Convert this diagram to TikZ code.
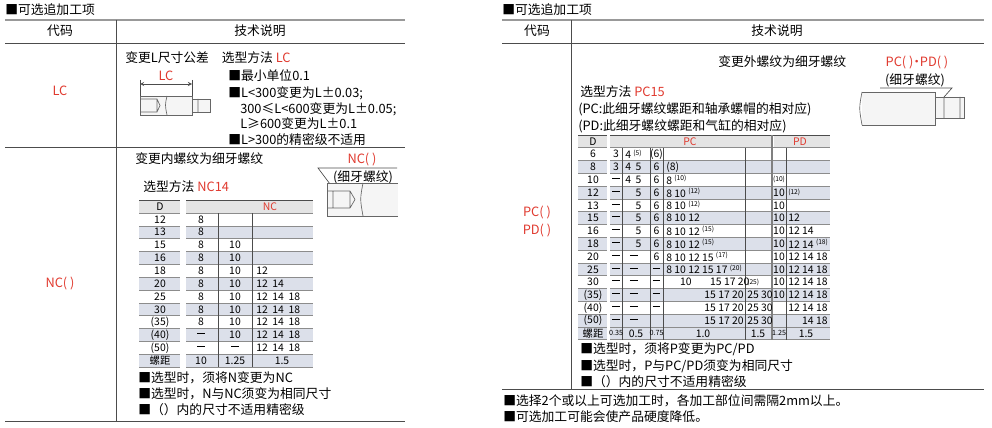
\documentclass[tikz,border=0pt]{standalone}
\usepackage{fontspec}
\setmainfont{Noto Sans CJK SC}
\newcommand{\dsh}{\rule[0.28em]{0.75em}{0.45pt}}
\begin{document}
\begin{tikzpicture}[x=0.75pt,y=-0.75pt,
  txt/.style={anchor=west,inner sep=0pt,font=\fontsize{9.6}{11}\selectfont},
  cell/.style={inner sep=0pt,font=\fontsize{7.8}{9}\selectfont},
  sm/.style={inner sep=0pt,font=\fontsize{5.4}{6}\selectfont},
  redt/.style={text=myred},
  grid/.style={draw=black!70,line width=0.5pt},
  sep/.style={draw=black!45,line width=0.5pt}]
\definecolor{myred}{HTML}{E03A2F}
\definecolor{rowshade}{HTML}{DCE0EA}
\definecolor{hdr}{HTML}{E4E4E4}
\useasboundingbox (0,0) rectangle (992,428);
% ===== LEFT TABLE =====
\node[txt] (t1) at (5,10) {■可选追加工项};
\draw[draw=black!40,line width=1.5pt] (5,20) -- (405,20);
\draw[grid] (5,43) -- (405,43);
\draw[grid] (5,147) -- (405,147);
\draw[grid] (5,421) -- (405,421);
\draw[grid] (116,20) -- (116,421);
\node[txt,anchor=center] (h1) at (60,31) {代码};
\node[txt,anchor=center] (h2) at (260,31) {技术说明};
\node[txt,anchor=center,redt] (lc) at (60,91) {LC};
\node[txt,anchor=center,redt] (nc) at (60,284) {NC( )};
% LC row
\node[txt] (lct) at (125,58) {变更L尺寸公差\quad 选型方法 \textcolor{myred}{LC}};
\node[txt,anchor=center,redt] (lcd) at (166,76) {LC};
\draw[black!70,line width=0.4pt] (140,80)--(140,96) (192,80)--(192,96);
\draw[black!70,line width=0.4pt,<->,>=stealth] (140,84)--(192,84);
\draw[black!60,line width=0.7pt,fill=black!4] (140,96) rectangle (192,115);
\draw[black!60,line width=0.7pt,fill=black!4] (192,99) rectangle (210,112);
\draw[black!60,line width=0.5pt] (140,99)--(157,99)--(160,105.5)--(157,112)--(140,112) (157,99)--(157,112) (198,99)--(198,112) (167,96) .. controls (165,105) .. (167,115);
\node[txt] (l1) at (228,76) {■最小单位0.1};
\node[txt] (l2) at (228,93) {■L<300变更为L±0.03;};
\node[txt] (l3) at (240,109) {300≤L<600变更为L±0.05;};
\node[txt] (l4) at (240,124) {L≥600变更为L±0.1};
\node[txt] (l5) at (228,140) {■L>300的精密级不适用};
% NC row
\node[txt] (nct) at (135,159) {变更内螺纹为细牙螺纹};
\node[txt] (ncs) at (143,187) {选型方法 \textcolor{myred}{NC14}};
\node[txt,anchor=center,redt] (ncl) at (362,160) {NC( )};
\node[txt,anchor=center] (ncl2) at (363,177) {(细牙螺纹)};
\draw[black!70,line width=0.5pt] (397,168)--(318,168)--(336,192);
\draw[black!60,line width=0.7pt,fill=black!4] (398,183)--(327,183)--(327,216)--(398,216);
\draw[black!60,line width=0.5pt] (327,191)--(350,191)--(355,199.5)--(350,208)--(327,208) (333,191)--(333,208) (350,191)--(350,208) (363,183) .. controls (360,199) .. (363,216);
% NC table
\fill[hdr] (139,200) rectangle (180,213);
\fill[hdr] (186,200) rectangle (313,213);
\foreach \k in {2,4,6,8,10,12}{
  \fill[rowshade] (139,{213+12.85*(\k-1)}) rectangle (180,{213+12.85*\k});
  \fill[rowshade] (186,{213+12.85*(\k-1)}) rectangle (313,{213+12.85*\k});}
\foreach \k in {0,...,12}{
  \draw[sep] (139,{213+12.85*\k}) -- (180,{213+12.85*\k});
  \draw[sep] (186,{213+12.85*\k}) -- (313,{213+12.85*\k});}
\draw[grid] (139,200)--(180,200) (186,200)--(313,200);
\draw[grid] (218,213)--(218,367) (252,213)--(252,367);
\node[cell] (ncd) at (160,206.5) {D};
\node[cell,redt] (nch) at (270,206.5) {NC};
\foreach \d/\a/\b/\c [count=\k] in {12/8/{}/{},13/8/{}/{},15/8/10/{},16/8/10/{},18/8/10/12,20/8/10/{12\ \ 14},25/8/10/{12\ \ 14\ \ 18},30/8/10/{12\ \ 14\ \ 18},(35)/8/10/{12\ \ 14\ \ 18},(40)/\dsh/10/{12\ \ 14\ \ 18},(50)/\dsh/\dsh/{12\ \ 14\ \ 18}}{
  \node[cell] at (160,{206.5+12.85*\k}) {\d};
  \node[cell] at (201,{206.5+12.85*\k}) {\a};
  \node[cell] at (235,{206.5+12.85*\k}) {\b};
  \node[cell,anchor=west] at (256,{206.5+12.85*\k}) {\c};}
\node[cell] (ncp) at (160,360.5) {螺距};
\node[cell] at (201,360.5) {10};
\node[cell] at (235,360.5) {1.25};
\node[cell] at (282,360.5) {1.5};
\node[txt] (n1) at (138,378) {■选型时，须将N变更为NC};
\node[txt] (n2) at (138,394) {■选型时，N与NC须变为相同尺寸};
\node[txt] (n3) at (138,410) {■（）内的尺寸不适用精密级};
% ===== RIGHT TABLE =====
\node[txt] (t2) at (502,10) {■可选追加工项};
\draw[draw=black!40,line width=1.5pt] (502,20) -- (984,20);
\draw[grid] (502,43) -- (984,43);
\draw[grid] (502,389) -- (984,389);
\draw[grid] (571,20) -- (571,389);
\node[txt,anchor=center] (h3) at (537,31) {代码};
\node[txt,anchor=center] (h4) at (777,31) {技术说明};
\node[txt,anchor=center,redt] (pc) at (537,213) {PC( )};
\node[txt,anchor=center,redt] (pd) at (537,231) {PD( )};
\node[txt] (pct) at (718,62) {变更外螺纹为细牙螺纹};
\node[txt,anchor=center,redt] (pcl) at (917,63) {PC( )\kern-0.25em·\kern-0.25em PD( )};
\node[txt,anchor=center] (pcl2) at (915,80) {(细牙螺纹)};
\draw[black!70,line width=0.5pt] (880,88)--(952,88)--(936,106);
\draw[black!60,line width=0.7pt,fill=black!4] (862,92)--(935,92)--(935,125)--(862,125);
\draw[black!60,line width=0.7pt,fill=black!4] (935,97) rectangle (964,118);
\draw[black!60,line width=0.5pt] (862,92) .. controls (859,108) .. (862,125) (944,97)--(944,118) (960,97)--(960,118);
\node[txt] (ps) at (580,92) {选型方法 \textcolor{myred}{PC15}};
\node[txt] (p1) at (578,109) {(PC:此细牙螺纹螺距和轴承螺帽的相对应)};
\node[txt] (p2) at (578,126) {(PD:此细牙螺纹螺距和气缸的相对应)};
% PC table
\fill[hdr] (578,135) rectangle (607,147.8);
\fill[hdr] (610,135) rectangle (771,147.8);
\fill[hdr] (774,135) rectangle (830,147.8);
\foreach \k in {2,4,6,8,10,12,14,15}{
  \fill[rowshade] (578,{147.8+12.8*(\k-1)}) rectangle (607,{147.8+12.8*\k});
  \fill[rowshade] (610,{147.8+12.8*(\k-1)}) rectangle (830,{147.8+12.8*\k});}
\foreach \k in {0,...,15}{
  \draw[sep] (578,{147.8+12.8*\k}) -- (607,{147.8+12.8*\k});
  \draw[sep] (610,{147.8+12.8*\k}) -- (830,{147.8+12.8*\k});}
\draw[grid] (578,135)--(607,135) (610,135)--(830,135);
\draw[grid] (622,147.8)--(622,339.8) (650,147.8)--(650,339.8) (663,147.8)--(663,339.8) (745,147.8)--(745,339.8) (786,147.8)--(786,339.8);
\draw[black!50,line width=1.2pt] (772,135)--(772,339.8);
\node[cell] (pcd) at (593,141.4) {D};
\node[cell,redt] (pch) at (690,141.4) {PC};
\node[cell,redt] (pdh) at (800,141.4) {PD};
\foreach \d/\a/\b/\c/\e/\f/\g/\h [count=\k] in {
 6/3/{4 \textsuperscript{\tiny(5)}}/(6)/{}/{}/{}/{},
 8/3/{4\ \ 5}/6/(8)/{}/{}/{},
 10/\dsh/{4\ \ 5}/6/{8 \textsuperscript{\tiny(10)}}/{}/{\tiny(10)}/{},
 12/\dsh/{\phantom{4}\ \ 5}/6/{8 10 \textsuperscript{\tiny(12)}}/{}/10/{\tiny(12)},
 13/\dsh/{\phantom{4}\ \ 5}/6/{8 10 \textsuperscript{\tiny(12)}}/{}/10/{},
 15/\dsh/{\phantom{4}\ \ 5}/6/{8 10 12}/{}/10/{12},
 16/\dsh/{\phantom{4}\ \ 5}/6/{8 10 12 \textsuperscript{\tiny(15)}}/{}/10/{12 14},
 18/\dsh/{\phantom{4}\ \ 5}/6/{8 10 12 \textsuperscript{\tiny(15)}}/{}/10/{12 14 \textsuperscript{\tiny(18)}},
 20/\dsh/{\hspace{0.45em}\dsh}/6/{8 10 12 15 \textsuperscript{\tiny(17)}}/{}/10/{12 14 18},
 25/\dsh/{\hspace{0.45em}\dsh}/\dsh/{8 10 12 15 17 \textsuperscript{\tiny(20)}}/{}/10/{12 14 18},
 30/\dsh/{\hspace{0.45em}\dsh}/\dsh/{\phantom{8 1}10\phantom{ 12 }\ 15 17 20}/{\tiny(25)}/10/{12 14 18},
 (35)/\dsh/{\hspace{0.45em}\dsh}/\dsh/{\phantom{8 10 12 }\ 15 17 20}/{25 30}/10/{12 14 18},
 (40)/\dsh/{\hspace{0.45em}\dsh}/\dsh/{\phantom{8 10 12 }\ 15 17 20}/{25 30}/{}/{12 14 18},
 (50)/\dsh/{\hspace{0.45em}\dsh}/{}/{\phantom{8 10 12 }\ 15 17 20}/{25 30}/{}/{\phantom{12 }14 18}}{
  \node[cell] at (593,{141.4+12.8*\k}) {\d};
  \node[cell] at (616,{141.4+12.8*\k}) {\a};
  \node[cell,anchor=west] at (625,{141.4+12.8*\k}) {\b};
  \node[cell] at (656.5,{141.4+12.8*\k}) {\c};
  \node[cell,anchor=west] at (666,{141.4+12.8*\k}) {\e};
  \node[cell,anchor=west] at (747,{141.4+12.8*\k}) {\f};
  \node[cell] at (779,{141.4+12.8*\k}) {\g};
  \node[cell,anchor=west] at (788,{141.4+12.8*\k}) {\h};}
\node[cell] (pcp) at (593,333.4) {螺距};
\node[sm] at (616,333.4) {0.35};
\node[cell] at (636,333.4) {0.5};
\node[sm] at (656.5,333.4) {0.75};
\node[cell] at (703,333.4) {1.0};
\node[cell] at (758,333.4) {1.5};
\node[sm] at (779,333.4) {1.25};
\node[cell] at (806,333.4) {1.5};
\node[txt] (q1) at (580,349) {■选型时，须将P变更为PC/PD};
\node[txt] (q2) at (580,366) {■选型时，P与PC/PD须变为相同尺寸};
\node[txt] (q3) at (580,382) {■（）内的尺寸不适用精密级};
\node[txt] (f1) at (503,401) {■选择2个或以上可选加工时，各加工部位间需隔2mm以上。};
\node[txt] (f2) at (503,417) {■可选加工可能会使产品硬度降低。};
\end{tikzpicture}
\end{document}
